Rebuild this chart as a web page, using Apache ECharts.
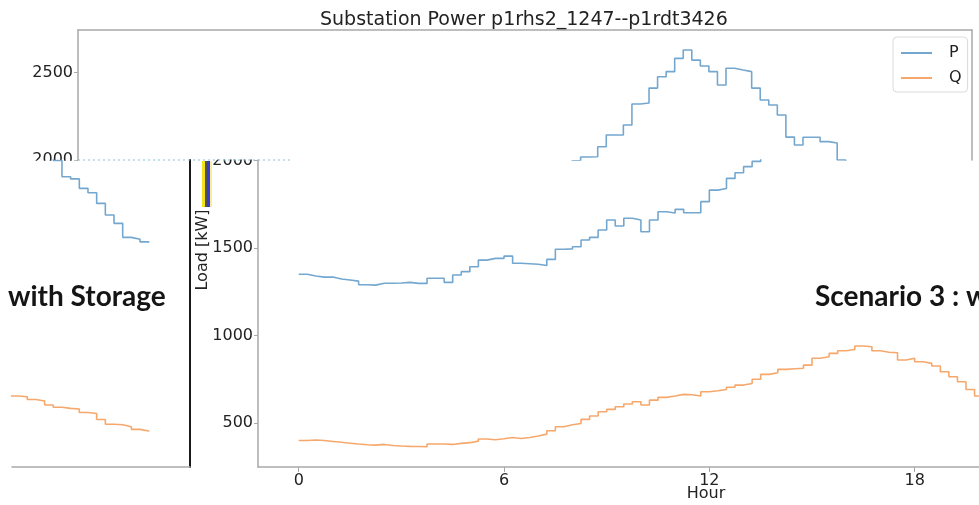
<!DOCTYPE html>
<html>
<head>
<meta charset="utf-8">
<script src="https://cdn.jsdelivr.net/npm/echarts@6/dist/echarts.min.js"></script>
<style>
  html, body { margin: 0; padding: 0; background: #fff; }
  #main { width: 979px; height: 505px; }
</style>
</head>
<body>
<div id="main"></div>
<script>
// 15-minute load readings for one day, kW
const hours = Array.from({ length: 96 }, (_, i) => i / 4);
const pLoad = [
  1350, 1340, 1334, 1334, 1323, 1317, 1311, 1290, 1288, 1299,
  1299, 1300, 1304, 1298, 1298, 1327, 1327, 1304, 1346, 1365,
  1393, 1431, 1441, 1441, 1454, 1413, 1410, 1407, 1400, 1435,
  1493, 1495, 1507, 1546, 1561, 1603, 1660, 1626, 1670, 1660,
  1593, 1660, 1707, 1700, 1721, 1702, 1702, 1765, 1831, 1840,
  1898, 1930, 1965, 1995, 2017, 2019, 2076, 2143, 2143, 2200,
  2320, 2326, 2411, 2476, 2505, 2581, 2629, 2571, 2537, 2505,
  2429, 2524, 2514, 2505, 2411, 2343, 2314, 2257, 2131, 2086,
  2130, 2130, 2105, 2097, 2000, 1907, 1895, 1841, 1816, 1755,
  1689, 1641, 1561, 1550, 1535, 1530
];
const qLoad = [
  400, 403, 400, 395, 390, 385, 380, 376, 374, 378,
  372, 369, 367, 366, 365, 380, 380, 378, 384, 388,
  397, 409, 405, 410, 418, 412, 418, 426, 437, 456,
  479, 490, 498, 521, 540, 565, 578, 593, 609, 622,
  603, 631, 647, 655, 664, 662, 655, 679, 685, 692,
  705, 717, 726, 750, 778, 787, 807, 810, 813, 831,
  870, 879, 898, 913, 920, 940, 936, 913, 905, 902,
  860, 870, 850, 841, 826, 793, 765, 736, 692, 655,
  650, 635, 626, 603, 590, 584, 580, 560, 555, 520,
  493, 490, 479, 464, 455, 450
];
const xTicks = [0, 6, 12, 18];
const yTicksTop = [2000, 2500];
const yTicksBottom = [500, 1000, 1500, 2000];

const blue = '#74a7cf';
const orange = '#f6a86c';
const spine = '#a9a9a9';
const font = 'DejaVu Sans';

const chart = echarts.init(document.getElementById('main'), null, { renderer: 'canvas' });

const pairs = vals => hours.map((h, i) => [h, vals[i]]);

// the picture is one plot cut into three pieces: top strip, lower right, lower left
function lines(axisIdx) {
  return [
    { name: 'P', color: blue, vals: pLoad },
    { name: 'Q', color: orange, vals: qLoad }
  ].map(s => ({
    name: s.name,
    type: 'line',
    xAxisIndex: axisIdx,
    yAxisIndex: axisIdx,
    data: pairs(s.vals),
    step: 'end',
    symbol: 'none',
    showSymbol: false,
    silent: true,
    clip: true,
    itemStyle: { color: s.color },
    lineStyle: { color: s.color, width: 1.6 }
  }));
}

const tickLabel = { fontSize: 16, fontFamily: font, color: '#222', formatter: v => String(v) };
const hidden = { axisTick: { show: false }, axisLabel: { show: false }, splitLine: { show: false } };
const line = (color, width) => ({ show: true, onZero: false, lineStyle: { color: color, width: width } });

const option = {
  animation: false,
  title: {
    text: 'Substation Power p1rhs2_1247--p1rdt3426',
    left: 315,
    top: 6,
    textStyle: { fontSize: 19, fontWeight: 'normal', fontFamily: font, color: '#222' }
  },
  legend: {
    data: ['P', 'Q'],
    orient: 'vertical',
    left: 893,
    top: 37,
    icon: 'rect',
    itemWidth: 31,
    itemHeight: 2,
    itemGap: 9,
    padding: [8, 6, 6, 8],
    borderColor: '#dadada',
    borderWidth: 1,
    borderRadius: 4,
    textStyle: { fontSize: 16, fontFamily: font, color: '#222', padding: [0, 0, 0, 12] }
  },
  grid: [
    { left: 78, top: 30, width: 894, height: 130 },
    { left: 258, top: 160, width: 721, height: 307 },
    { left: 12, top: 160, width: 178, height: 307 }
  ],
  xAxis: [
    Object.assign({
      gridIndex: 0, type: 'value', position: 'top', min: -1.19, max: 24.94,
      axisLine: line(spine, 1.5)
    }, hidden),
    {
      gridIndex: 1, type: 'value', min: -1.19, max: 19.88,
      axisLine: line(spine, 1.5),
      axisTick: { show: true, length: 5, customValues: xTicks, lineStyle: { color: spine } },
      axisLabel: Object.assign({ customValues: xTicks, margin: 6 }, tickLabel),
      splitLine: { show: false }
    },
    Object.assign({
      gridIndex: 2, type: 'value', min: 19.81, max: 24.94,
      axisLine: line(spine, 1.5)
    }, hidden)
  ],
  yAxis: [
    {
      gridIndex: 0, type: 'value', min: 2000, max: 2743,
      axisLine: line(spine, 1.5),
      axisTick: { show: true, length: 4, customValues: yTicksTop, lineStyle: { color: spine } },
      axisLabel: Object.assign({ customValues: yTicksTop, margin: 5 }, tickLabel),
      splitLine: { show: false }
    },
    {
      gridIndex: 1, type: 'value', min: 249, max: 2003,
      axisLine: line(spine, 1.5),
      axisTick: { show: true, length: 4, customValues: yTicksBottom, lineStyle: { color: spine } },
      axisLabel: Object.assign({ customValues: yTicksBottom, margin: 5 }, tickLabel),
      splitLine: { show: false }
    },
    Object.assign({
      gridIndex: 2, type: 'value', position: 'right', min: 249, max: 2003,
      axisLine: line('#1a1a1a', 2)
    }, hidden),
    Object.assign({
      gridIndex: 0, type: 'value', position: 'right', min: 2000, max: 2743,
      axisLine: line(spine, 1.5)
    }, hidden)
  ],
  series: [].concat(lines(0), lines(1), lines(2)),
  graphic: [
    // pieces were cut through the 2000 labels
    { type: 'rect', z: 1, shape: { x: 20, y: 160.8, width: 57, height: 14 }, style: { fill: '#fff' } },
    { type: 'rect', z: 1, shape: { x: 196, y: 140, width: 60, height: 19.5 }, style: { fill: '#fff' } },
    { type: 'line', z: 3, shape: { x1: 78, y1: 160, x2: 292, y2: 160 }, style: { stroke: '#86c4d4', lineWidth: 1.2, lineDash: [2, 3] } },
    { type: 'rect', z: 3, shape: { x: 202, y: 161, width: 3, height: 46 }, style: { fill: '#f2e21a' } },
    { type: 'rect', z: 3, shape: { x: 205, y: 161, width: 2, height: 46 }, style: { fill: '#505050' } },
    { type: 'rect', z: 3, shape: { x: 207, y: 161, width: 3, height: 46 }, style: { fill: '#3a3ad0' } },
    { type: 'rect', z: 3, shape: { x: 210, y: 161, width: 2, height: 46 }, style: { fill: '#f4ee9a' } },
    {
      type: 'text', z: 3, x: 203, y: 250, rotation: Math.PI / 2,
      style: { text: 'Load [kW]', font: '16px "DejaVu Sans"', fill: '#222', align: 'center', verticalAlign: 'middle' }
    },
    {
      type: 'text', z: 3, x: 706, y: 494,
      style: { text: 'Hour', font: '16px "DejaVu Sans"', fill: '#222', align: 'center', verticalAlign: 'middle' }
    },
    {
      type: 'text', z: 3, x: 8, y: 297,
      style: { text: 'with Storage', font: 'bold 28px Lato', fill: '#151515', align: 'left', verticalAlign: 'middle' }
    },
    {
      type: 'text', z: 3, x: 815, y: 297,
      style: { text: 'Scenario 3 : with Storage', font: 'bold 28px Lato', fill: '#151515', align: 'left', verticalAlign: 'middle' }
    }
  ]
};

chart.setOption(option);
</script>
</body>
</html>
